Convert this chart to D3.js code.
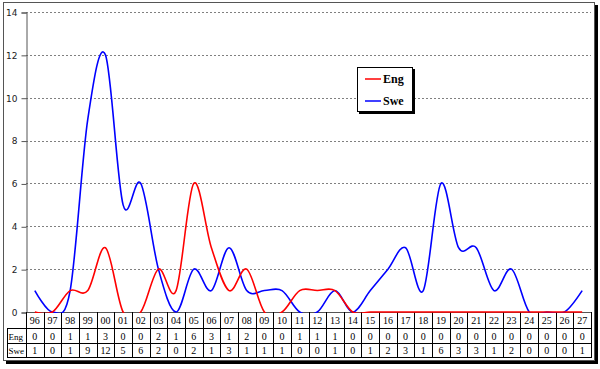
<!DOCTYPE html>
<html>
<head>
<meta charset="utf-8">
<script src="https://cdn.jsdelivr.net/npm/d3@7"></script>
<style>
  body { margin: 0; background: #fff; }
  svg { display: block; }
</style>
</head>
<body>
<svg id="chart" width="600" height="369"></svg>
<script>
const years = ['96','97','98','99','00','01','02','03','04','05','06','07','08','09','10','11',
               '12','13','14','15','16','17','18','19','20','21','22','23','24','25','26','27']
const eng = [0,0,1,1,3,0,0,2,1,6,3,1,2,0,0,1,1,1,0,0,0,0,0,0,0,0,0,0,0,0,0,0]
const swe = [1,0,1,9,12,5,6,2,0,2,1,3,1,1,1,0,0,1,0,1,2,3,1,6,3,3,1,2,0,0,0,1]
const yTicks = [0,2,4,6,8,10,12,14]
const seriesNames = ['Eng', 'Swe']
const seriesColors = ['#ff0000', '#0000ff']

const svg = d3.select('#chart')

// outer frame with drop shadow
svg.append('rect').attr('x', 6).attr('y', 5).attr('width', 592).attr('height', 359).attr('fill', '#000')
svg.append('rect').attr('x', 3.5).attr('y', 2.5).attr('width', 591).attr('height', 358)
    .attr('fill', '#fff').attr('stroke', '#555')

const plotLeft = 26, plotRight = 591, plotTop = 12, plotBottom = 312

const x = d3.scaleBand().domain(years).range([plotLeft, plotRight])
const y = d3.scaleLinear().domain([0, 14]).range([plotBottom, plotTop])

// gridlines
svg.append('g').selectAll('line')
    .data(yTicks.filter(d => d > 0))
    .enter().append('line')
        .attr('x1', plotLeft).attr('x2', plotRight)
        .attr('y1', d => Math.round(y(d)) + 0.5).attr('y2', d => Math.round(y(d)) + 0.5)
        .attr('stroke', '#808080')
        .attr('stroke-dasharray', '2,2')

const yAxis = d3.axisLeft(y).tickValues(yTicks).tickSize(5).tickPadding(4)
const yAxisEl = svg.append('g')
    .attr('transform', `translate(${plotLeft + 0.5},0.5)`)
    .call(yAxis)
yAxisEl.select('.domain').attr('stroke', '#555')
yAxisEl.selectAll('line').attr('stroke', '#555')
yAxisEl.selectAll('text')
    .style('font-family', '"DejaVu Sans", Verdana, sans-serif')
    .style('font-size', '9px')
    .attr('fill', '#222')

// data table
const rowTop = plotBottom, row1 = 328, row2 = 343, row3 = 357, labelLeft = 7.5
const table = svg.append('g')
const tableFont = '"Liberation Serif", "Times New Roman", serif'

table.append('line').attr('x1', plotLeft).attr('x2', plotRight).attr('y1', rowTop + 0.5).attr('y2', rowTop + 0.5).attr('stroke', '#555')
;[row1, row2, row3].forEach(r => {
    table.append('line').attr('x1', labelLeft).attr('x2', plotRight + 0.5).attr('y1', r + 0.5).attr('y2', r + 0.5).attr('stroke', '#000')
})
table.append('line').attr('x1', labelLeft).attr('x2', labelLeft).attr('y1', row1).attr('y2', row3 + 1).attr('stroke', '#000')

const bounds = years.map(d => x(d)).concat([plotRight])
table.selectAll('line.col')
    .data(bounds)
    .enter().append('line')
        .attr('class', 'col')
        .attr('x1', d => Math.round(d) + 0.5).attr('x2', d => Math.round(d) + 0.5)
        .attr('y1', rowTop).attr('y2', row3 + 1)
        .attr('stroke', '#000')

table.selectAll('text.cat')
    .data(years)
    .enter().append('text')
        .attr('x', d => x(d) + x.bandwidth() / 2)
        .attr('y', (rowTop + row1) / 2 + 4)
        .attr('text-anchor', 'middle')
        .style('font-family', tableFont)
        .style('font-size', '10px')
        .text(d => d)

const rows = [[eng, (row1 + row2) / 2 + 4], [swe, (row2 + row3) / 2 + 4]]
rows.forEach((r, k) => {
    table.append('text')
        .attr('x', labelLeft + 1).attr('y', r[1])
        .style('font-family', tableFont).style('font-size', '9px')
        .text(seriesNames[k])
    table.selectAll(null)
        .data(r[0])
        .enter().append('text')
            .attr('x', (d, i) => x(years[i]) + x.bandwidth() / 2)
            .attr('y', r[1])
            .attr('text-anchor', 'middle')
            .style('font-family', tableFont)
            .style('font-size', '10px')
            .text(d => d)
})

// lines, clipped to plot area, drawn over the table top edge
svg.append('clipPath').attr('id', 'plotClip')
    .append('rect').attr('x', plotLeft).attr('y', 0).attr('width', plotRight - plotLeft).attr('height', plotBottom + 1)

const line = d3.line()
    .x((d, i) => x(years[i]) + x.bandwidth() / 2)
    .y(d => y(d))
    .curve(d3.curveCardinal.tension(0))

const lineGroup = svg.append('g').attr('clip-path', 'url(#plotClip)')
lineGroup.append('path').datum(swe)
    .attr('d', line).attr('fill', 'none').attr('stroke', seriesColors[1]).attr('stroke-width', 1.6)
lineGroup.append('path').datum(eng)
    .attr('d', line).attr('fill', 'none').attr('stroke', seriesColors[0]).attr('stroke-width', 1.6)

// legend
const legend = svg.append('g').attr('transform', 'translate(357,67)')
legend.append('rect').attr('x', 2).attr('y', 2).attr('width', 56).attr('height', 45).attr('fill', '#000')
legend.append('rect').attr('x', 0.5).attr('y', 0.5).attr('width', 55).attr('height', 44).attr('fill', '#fff').attr('stroke', '#000')
seriesNames.forEach((name, i) => {
    const ly = 12 + i * 22
    legend.append('line').attr('x1', 8).attr('x2', 24).attr('y1', ly).attr('y2', ly)
        .attr('stroke', seriesColors[i]).attr('stroke-width', 1.5)
    legend.append('text').attr('x', 26).attr('y', ly + 4)
        .style('font-family', tableFont).style('font-size', '12px').style('font-weight', 'bold')
        .text(name)
})
</script>
</body>
</html>
